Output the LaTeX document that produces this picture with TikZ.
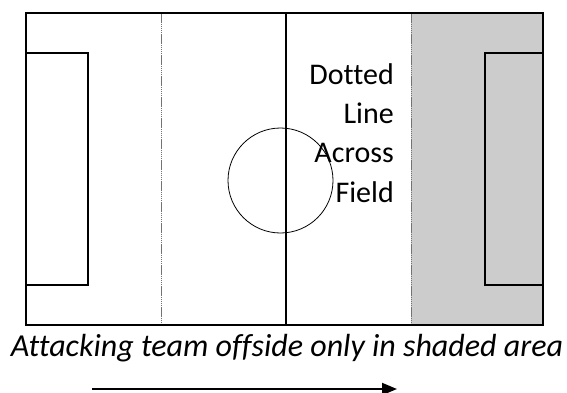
\documentclass[tikz,border=0pt]{standalone}
\usepackage{fontspec}
\setmainfont{Carlito}[Ligatures=NoCommon]
\usetikzlibrary{positioning,arrows.meta}

\begin{document}
\begin{tikzpicture}[x=1pt,y=-1pt]

	\useasboundingbox (0,0) rectangle (567,392);

	\filldraw[fill=black!20, draw=none] (411,13) rectangle (543,325);

	\draw[black!55, line width=1pt, dash pattern=on 1.5pt off 0.6pt] (161,13) -- (161,325);
	\draw[black!55, line width=1pt, dash pattern=on 1.5pt off 0.6pt] (411,13) -- (411,325);

	\draw[black, line width=1.5pt] (26,13) -- (543,13) -- (543,325) -- (26,325) -- cycle;
	\draw[black, line width=1.5pt] (26,53) -- (88,53) -- (88,285) -- (26,285);
	\draw[black, line width=1.5pt] (543,53) -- (485,53) -- (485,285) -- (543,285);
	\draw[black, line width=1.2pt] (286,13) -- (286,325);
	\draw[black, line width=0.8pt] (280.5,180.5) circle[radius=52.5pt];

	\node[anchor=base east, align=right, inner sep=0pt, font=\fontsize{30}{39.3}\selectfont] (note) at (394,202) {Dotted\\Line\\Across\\Field};

	\node[anchor=base, inner sep=0pt, font=\fontsize{32}{38}\selectfont\itshape] (caption) at (287,356) {Attacking team offside only in shaded area};

	\coordinate (arrowstart) at (92,389);
	\coordinate (arrowend) at (397,389);
	\draw[black, line width=2pt, -{Triangle[length=15pt,width=12pt]}] (arrowstart) -- (arrowend);

\end{tikzpicture}
\end{document}
